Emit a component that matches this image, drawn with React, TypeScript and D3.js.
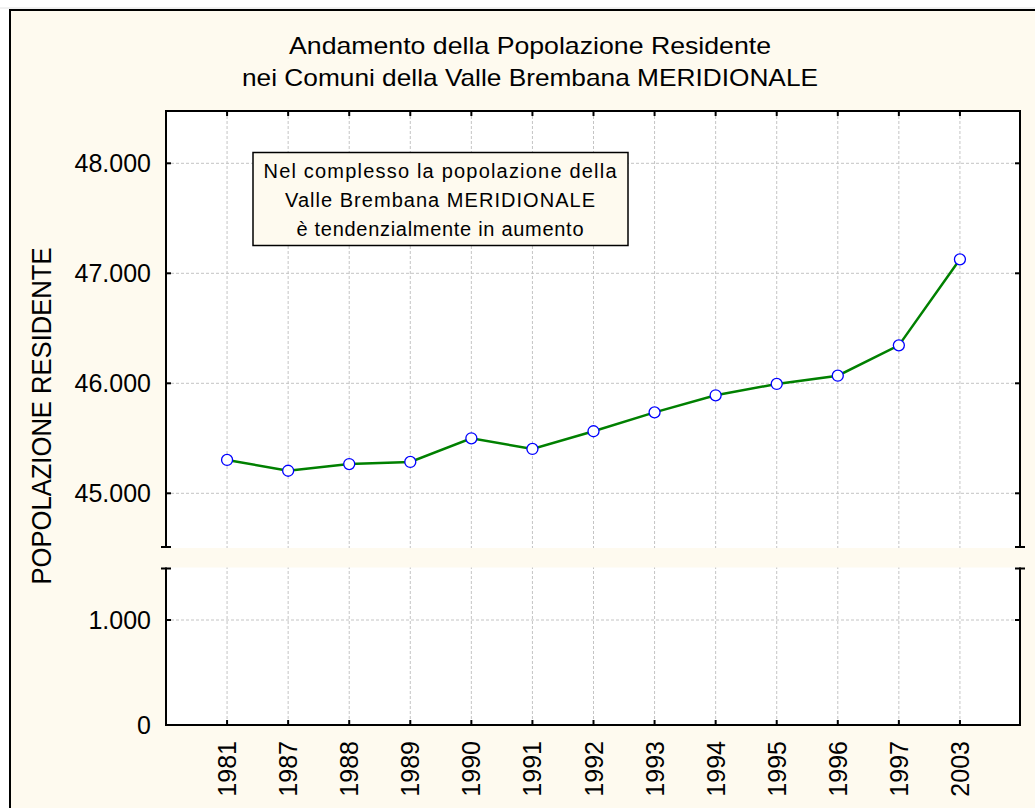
import React from "react";
import * as d3 from "d3";

const years = ["1981", "1987", "1988", "1989", "1990", "1991", "1992", "1993", "1994", "1995", "1996", "1997", "2003"];
const population = [45303, 45205, 45266, 45285, 45500, 45403, 45564, 45736, 45891, 45994, 46069, 46345, 47127];
const upperTicks = [45000, 46000, 47000, 48000];
const lowerTicks = [0, 1000];
const titleLines = ["Andamento della Popolazione Residente", "nei Comuni della Valle Brembana MERIDIONALE"];
const noteLines = ["Nel complesso la popolazione della", "Valle Brembana MERIDIONALE", "è tendenzialmente in aumento"];
const yTitle = "POPOLAZIONE RESIDENTE";

const W = 1035;
const H = 808;
const FONT = "'Liberation Sans', Arial, sans-serif";
const CREAM = "#fefaef";

const L = 166, R = 1020, TOP = 111, BREAK_TOP = 547, BREAK_BOT = 568.5, BOTTOM = 725;

export default function App() {
  const x = d3.scalePoint<string>().domain(years).range([L, R + 1]).padding(1);
  const yU = d3.scaleLinear().domain([44500, 48500]).range([548.3, 108.3]);
  const yL = d3.scaleLinear().domain([0, 1500]).range([BOTTOM, 567.5]);
  const loc = d3.formatLocale({ decimal: ",", thousands: ".", grouping: [3], currency: ["", ""] });
  const fmt = loc.format(",");
  const line = d3.line<number>().x((_, i) => x(years[i]) as number).y((d) => yU(d));
  const grid = "#c4c4c4";

  return (
    <svg width={W} height={H} style={{ position: "absolute", left: 0, top: 0 }} fontFamily={FONT}>
      <rect x={0} y={0} width={W} height={H} fill="#fff" />
      <line x1={0} x2={W} y1={8} y2={8} stroke="#e2e2e2" strokeWidth={1} />
      <rect x={10} y={10} width={W + 20} height={H + 20} fill={CREAM} stroke="#000" strokeWidth={2} />

      {/* titles */}
      {titleLines.map((t, i) => (
        <text key={t} x={530} y={54 + i * 32} textAnchor="middle" fontSize={24} fill="#000"
          textLength={i === 0 ? 482 : 576} lengthAdjust="spacingAndGlyphs">{t}</text>
      ))}

      {/* plot panels */}
      <rect x={L} y={TOP} width={R - L} height={BOTTOM - TOP} fill="#fff" />

      {/* gridlines */}
      {years.map((yr) => (
        <line key={"v" + yr} x1={x(yr)} x2={x(yr)} y1={TOP} y2={BOTTOM} stroke={grid} strokeWidth={1} strokeDasharray="3,2" />
      ))}
      {upperTicks.map((t) => (
        <line key={"hu" + t} x1={L} x2={R} y1={yU(t)} y2={yU(t)} stroke={grid} strokeWidth={1} strokeDasharray="3,2" />
      ))}
      {lowerTicks.filter((t) => t > 0).map((t) => (
        <line key={"hl" + t} x1={L} x2={R} y1={yL(t)} y2={yL(t)} stroke={grid} strokeWidth={1} strokeDasharray="3,2" />
      ))}

      {/* frame of plot */}
      <rect x={L} y={TOP} width={R - L} height={BOTTOM - TOP} fill="none" stroke="#000" strokeWidth={2} />

      {/* break band */}
      <rect x={L - 3} y={BREAK_TOP + 1} width={R - L + 6} height={BREAK_BOT - BREAK_TOP - 2} fill={CREAM} />
      {[L, R].map((ax) => (
        <g key={"br" + ax}>
          <line x1={ax - 5} x2={ax + 5} y1={BREAK_TOP} y2={BREAK_TOP} stroke="#000" strokeWidth={2} />
          <line x1={ax - 5} x2={ax + 5} y1={BREAK_BOT} y2={BREAK_BOT} stroke="#000" strokeWidth={2} />
        </g>
      ))}

      {/* y ticks */}
      {upperTicks.map((t) => (
        <g key={"tu" + t}>
          <line x1={L} x2={L + 5} y1={yU(t)} y2={yU(t)} stroke="#000" strokeWidth={2} />
          <line x1={R} x2={R - 5} y1={yU(t)} y2={yU(t)} stroke="#000" strokeWidth={2} />
          <text x={151} y={yU(t)} dy="0.35em" textAnchor="end" fontSize={25} fill="#000">{fmt(t)}</text>
        </g>
      ))}
      {lowerTicks.map((t) => (
        <g key={"tl" + t}>
          <line x1={L} x2={L + 5} y1={yL(t)} y2={yL(t)} stroke="#000" strokeWidth={2} />
          <line x1={R} x2={R - 5} y1={yL(t)} y2={yL(t)} stroke="#000" strokeWidth={2} />
          <text x={151} y={yL(t)} dy="0.35em" textAnchor="end" fontSize={25} fill="#000">{fmt(t)}</text>
        </g>
      ))}

      {/* x ticks */}
      {years.map((yr) => (
        <g key={"tx" + yr}>
          <line x1={x(yr)} x2={x(yr)} y1={BOTTOM} y2={BOTTOM - 5} stroke="#000" strokeWidth={2} />
          <line x1={x(yr)} x2={x(yr)} y1={TOP} y2={TOP + 5} stroke="#000" strokeWidth={2} />
          <text transform={`translate(${(x(yr) as number) + 9},741) rotate(-90)`} textAnchor="end" fontSize={25} fill="#000">{yr}</text>
        </g>
      ))}

      {/* y title */}
      <text transform="translate(51,416) rotate(-90)" textAnchor="middle" fontSize={28} fill="#000"
        textLength={337} lengthAdjust="spacingAndGlyphs">{yTitle}</text>

      {/* data */}
      <path d={line(population) || ""} fill="none" stroke="#008000" strokeWidth={2.5} />
      {population.map((v, i) => (
        <circle key={"c" + i} cx={x(years[i])} cy={yU(v)} r={5.5} fill="#fff" stroke="#0000ff" strokeWidth={1.3} />
      ))}

      {/* annotation */}
      <rect x={253} y={152.5} width={375} height={93} fill={CREAM} stroke="#000" strokeWidth={1.5} />
      {noteLines.map((t, i) => (
        <text key={t} x={440} y={178 + i * 29} textAnchor="middle" fontSize={20} fill="#000"
          textLength={[353, 310, 287][i]} lengthAdjust="spacing">{t}</text>
      ))}
    </svg>
  );
}
